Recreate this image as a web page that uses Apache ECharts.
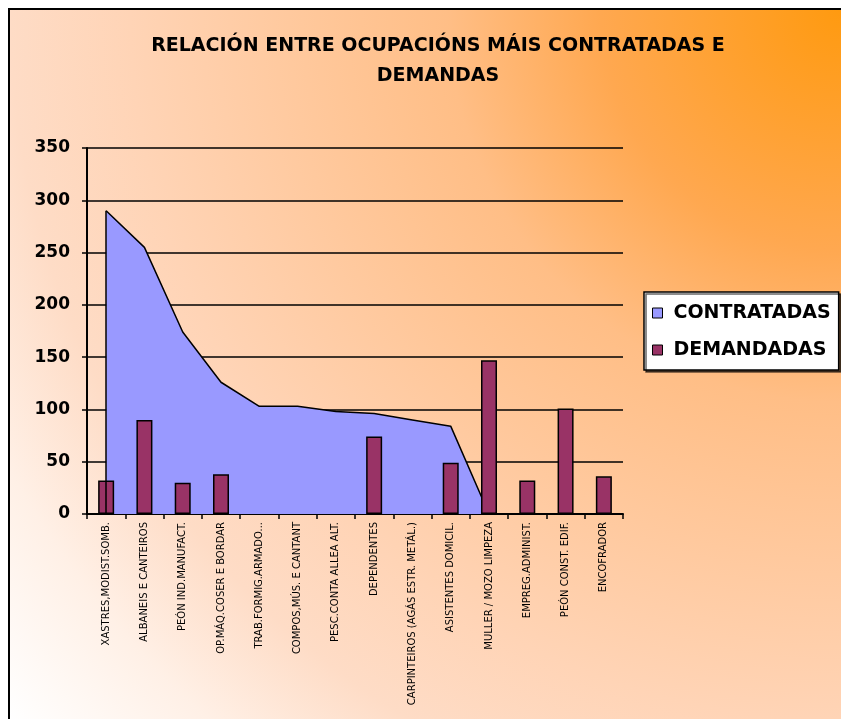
<!DOCTYPE html>
<html>
<head>
<meta charset="utf-8">
<script src="https://cdn.jsdelivr.net/npm/echarts@6/dist/echarts.min.js"></script>
<style>
  html, body { margin: 0; padding: 0; background: #fff; }
  #box { width: 841px; height: 719px; }
</style>
</head>
<body>
<div id="box"></div>
<script>
// categorías (ocupacións)
var ocupacions = [
  "XASTRES,MODIST.SOMB.",
  "ALBANEIS E CANTEIROS",
  "PEÓN IND.MANUFACT.",
  "OP.MÁQ.COSER E BORDAR",
  "TRAB.FORMIG.ARMADO...",
  "COMPOS,MÚS. E CANTANT",
  "PESC.CONTA ALLEA ALT.",
  "DEPENDENTES",
  "CARPINTEIROS (AGÁS ESTR. METÁL.)",
  "ASISTENTES DOMICIL.",
  "MULLER / MOZO LIMPEZA",
  "EMPREG.ADMINIST.",
  "PEÓN CONST. EDIF.",
  "ENCOFRADOR"
];
// área
var contratadas = [290, 255, 174, 126, 103, 103, 98, 96, 90, 84, 0, 0, 0, 0];
// barras (sen barra = null)
var demandadas = [32, 90, 30, 38, null, null, null, 74, null, 49, 147, 32, 101, 36];
// eixo y
var yMin = 0, yMax = 350, yStep = 50;

var chart = echarts.init(document.getElementById("box"));

var fontName = "DejaVu Sans";

var option = {
  backgroundColor: "#fff",
  animation: false,
  // fondo degradado desde a esquina superior dereita, con marco
  graphic: [
    {
      type: "rect",
      z: -1,
      shape: { x: 9, y: 9, width: 836, height: 714 },
      style: {
        fill: new echarts.graphic.RadialGradient(841, 9, 1093, [
          { offset: 0, color: "#FF9A10" },
          { offset: 0.22, color: "#FFA850" },
          { offset: 0.36, color: "#FFBE86" },
          { offset: 0.65, color: "#FFD4B6" },
          { offset: 0.76, color: "#FEDCC6" },
          { offset: 0.87, color: "#FFF0E6" },
          { offset: 1, color: "#FFFFFF" }
        ], true),
        stroke: "#000",
        lineWidth: 2
      }
    }
  ],
  title: {
    text: "RELACIÓN ENTRE OCUPACIÓNS MÁIS CONTRATADAS E\nDEMANDAS",
    left: 433,
    top: 26,
    textAlign: "center",
    textStyle: {
      fontFamily: fontName,
      fontWeight: "bold",
      fontSize: 19,
      lineHeight: 30,
      color: "#000"
    }
  },
  legend: {
    orient: "vertical",
    left: 644,
    top: 292,
    padding: [11, 8, 10, 8],
    itemGap: 17,
    itemWidth: 10,
    itemHeight: 10,
    icon: "rect",
    backgroundColor: "#fff",
    borderColor: "#000",
    borderWidth: 1.5,
    borderRadius: 0,
    shadowColor: "rgba(0,0,0,0.6)",
    shadowOffsetX: 2,
    shadowOffsetY: 2,
    itemStyle: { borderColor: "#000", borderWidth: 1 },
    textStyle: {
      fontFamily: fontName,
      fontWeight: "bold",
      fontSize: 19,
      lineHeight: 20,
      padding: [0, 0, 0, 6],
      color: "#000"
    },
    data: ["CONTRATADAS", "DEMANDADAS"]
  },
  grid: {
    left: 87,
    right: 218,
    top: 148,
    bottom: 205
  },
  xAxis: {
    type: "category",
    data: ocupacions,
    axisLine: { lineStyle: { color: "#000", width: 2 } },
    axisTick: { show: true, length: 5, lineStyle: { color: "#000", width: 1.5 } },
    axisLabel: {
      interval: 0,
      rotate: 90,
      margin: 8,
      fontFamily: fontName,
      fontSize: 10,
      color: "#000"
    }
  },
  yAxis: {
    type: "value",
    min: yMin,
    max: yMax,
    interval: yStep,
    axisLine: { show: true, lineStyle: { color: "#000", width: 2 } },
    axisTick: { show: true, length: 5, lineStyle: { color: "#000", width: 1.5 } },
    axisLabel: {
      margin: 17,
      fontFamily: fontName,
      fontWeight: "bold",
      fontSize: 17,
      color: "#000"
    },
    splitLine: { show: true, lineStyle: { color: "#000", width: 1.5 } }
  },
  series: [
    {
      name: "CONTRATADAS",
      type: "line",
      data: contratadas,
      symbol: "none",
      z: 2,
      itemStyle: { color: "#9999FF" },
      lineStyle: { color: "#000", width: 1.5 },
      areaStyle: { color: "#9999FF", opacity: 1 },
      // borde vertical do primeiro punto
      markLine: {
        silent: true,
        symbol: "none",
        label: { show: false },
        lineStyle: { color: "#000", width: 1.5, type: "solid" },
        data: [[{ coord: [0, 0] }, { coord: [0, contratadas[0]] }]]
      }
    },
    {
      name: "DEMANDADAS",
      type: "bar",
      data: demandadas,
      barWidth: 16,
      z: 3,
      itemStyle: { color: "#993366", borderColor: "#000", borderWidth: 1.5 }
    }
  ]
};

chart.setOption(option);
</script>
</body>
</html>
